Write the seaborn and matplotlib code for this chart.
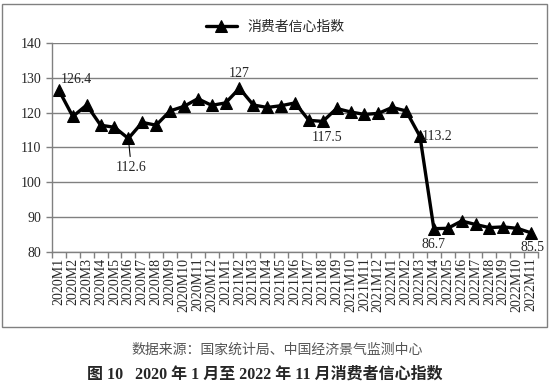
import numpy as np
import pandas as pd
import seaborn as sns
import matplotlib.pyplot as plt
from matplotlib.patches import Rectangle
from matplotlib.ticker import FixedLocator

# data
months = ["2020M1", "2020M2", "2020M3", "2020M4", "2020M5", "2020M6", "2020M7",
          "2020M8", "2020M9", "2020M10", "2020M11", "2020M12",
          "2021M1", "2021M2", "2021M3", "2021M4", "2021M5", "2021M6", "2021M7",
          "2021M8", "2021M9", "2021M10", "2021M11", "2021M12",
          "2022M1", "2022M2", "2022M3", "2022M4", "2022M5", "2022M6", "2022M7",
          "2022M8", "2022M9", "2022M10", "2022M11"]
cci = [126.4, 118.9, 122.2, 116.4, 115.8, 112.6, 117.2, 116.4, 120.5, 121.8, 124.0, 122.1,
       122.8, 127.0, 122.2, 121.5, 122.0, 122.8, 117.8, 117.5, 121.2, 120.2, 119.5, 119.8,
       121.5, 120.5, 113.2, 86.7, 86.8, 88.9, 87.9, 87.0, 87.2, 86.8, 85.5]
series_name = "消费者信心指数"
# labelled points: (month, text)
labelled = [("2020M1", "126.4"), ("2020M6", "112.6"), ("2021M2", "127"),
            ("2021M8", "117.5"), ("2022M3", "113.2"), ("2022M4", "86.7"),
            ("2022M11", "85.5")]

df = pd.DataFrame({"pos": np.arange(len(months)), "month": months, "value": cci})

sns.set_style("white")
plt.rcParams['font.family'] = ['Liberation Serif', 'Noto Sans CJK SC']

fig = plt.figure(figsize=(5.59, 3.86), dpi=100)
ax = fig.add_axes([52/559, 1-252/386, 486/559, 209/386])

sns.lineplot(data=df, x="pos", y="value", ax=ax, color="black", linewidth=2.4,
             marker="^", markersize=8, markeredgecolor="black", label=series_name)

ax.set_xlim(-0.5, len(months) - 0.5)
ax.set_ylim(80, 140)
ax.set_yticks(range(80, 141, 10))
ax.set_xticks(df["pos"], labels=months, rotation=90)
ax.xaxis.set_minor_locator(FixedLocator(np.arange(-0.5, len(months), 1.0)))
ax.tick_params(axis="x", which="major", length=0, pad=4, labelsize=10)
ax.tick_params(axis="x", which="minor", length=4, color="#808080", width=1, bottom=True)
ax.tick_params(axis="y", length=4, color="#808080", width=1, left=True, labelsize=10)
ax.set_xlabel("")
ax.set_ylabel("")
ax.grid(axis="y", color="#808080", linewidth=1)
ax.set_axisbelow(True)
for s in ["top", "right"]:
    ax.spines[s].set_visible(False)
for s in ["left", "bottom"]:
    ax.spines[s].set_color("#808080")
    ax.spines[s].set_linewidth(1)

# data labels
offsets = {"126.4": (1, 3, "left", "bottom"),
           "112.6": (2, -16, "center", "top"),
           "127": (0, 6, "center", "bottom"),
           "117.5": (3, -7, "center", "top"),
           "113.2": (1, 0, "left", "center"),
           "86.7": (0, -7, "center", "top"),
           "85.5": (1, -6, "center", "top")}
for m, txt in labelled:
    i = months.index(m)
    dx, dy, ha, va = offsets[txt]
    ax.annotate(txt, (df["pos"][i], df["value"][i]), xytext=(dx, dy),
                textcoords="offset points", ha=ha, va=va, fontsize=10)
# leader line for 112.6
i = months.index("2020M6")
ax.annotate("", (df["pos"][i], df["value"][i]), xytext=(1.5, -15),
            textcoords="offset points",
            arrowprops=dict(arrowstyle="-", color="black", lw=0.8))

leg = ax.legend(loc="center", bbox_to_anchor=(0.46, 1.075), frameon=False,
                handlelength=2.2, prop={"family": ["Noto Sans CJK SC"], "size": 10})

fig.add_artist(Rectangle((2/559, 1-327/386), 545/559, 323/386, transform=fig.transFigure,
                         fill=False, edgecolor="#808080", linewidth=1))

fig.text(277/559, 1-350/386, "数据来源：国家统计局、中国经济景气监测中心",
         ha="center", va="center", fontsize=10, color="#555555",
         family=["Noto Sans CJK SC"])
fig.text(265/559, 1-375/386, "图 10   2020 年 1 月至 2022 年 11 月消费者信心指数",
         ha="center", va="center", fontsize=11.5, fontweight="bold")

fig.savefig("out.png", dpi=100)
